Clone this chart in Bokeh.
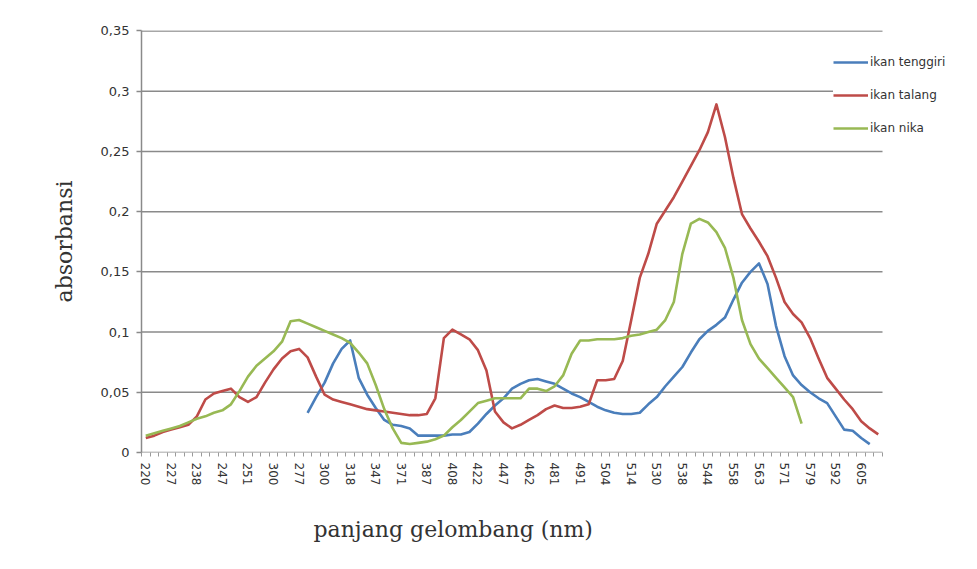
from bokeh.plotting import figure
from bokeh.models import (FixedTicker, Legend, LegendItem, Range1d,
                          CustomJSTickFormatter, Title)
from bokeh.embed import file_html
from bokeh.resources import INLINE

# ---------------- data ----------------
wavelength_labels = ["220", "227", "238", "247", "251", "300", "277", "300", "318",
                     "347", "371", "387", "408", "422", "447", "462", "481", "491",
                     "504", "514", "530", "538", "544", "558", "563", "571", "579",
                     "592", "605"]
label_step = 3          # one label every 3 categories
n_categories = 87

ikan_tenggiri = [None] * 19 + [
    0.033, 0.046, 0.058, 0.074, 0.086, 0.093, 0.062, 0.048, 0.037, 0.027,
    0.023, 0.022, 0.020, 0.014, 0.014, 0.014, 0.014, 0.015, 0.015, 0.017,
    0.024, 0.032, 0.039, 0.045, 0.053, 0.057, 0.060, 0.061, 0.059, 0.057,
    0.053, 0.049, 0.046, 0.042, 0.038, 0.035, 0.033, 0.032, 0.032, 0.033,
    0.040, 0.046, 0.055, 0.063, 0.071, 0.083, 0.094, 0.101, 0.106, 0.112,
    0.127, 0.141, 0.150, 0.157, 0.140, 0.105, 0.080, 0.064, 0.056, 0.050,
    0.045, 0.041, 0.030, 0.019, 0.018, 0.012, 0.007] + [None]

ikan_talang = [
    0.012, 0.014, 0.017, 0.019, 0.021, 0.023, 0.030, 0.044, 0.049, 0.051,
    0.053, 0.046, 0.042, 0.046, 0.058, 0.069, 0.078, 0.084, 0.086, 0.079,
    0.063, 0.048, 0.044, 0.042, 0.040, 0.038, 0.036, 0.035, 0.034, 0.033,
    0.032, 0.031, 0.031, 0.032, 0.045, 0.095, 0.102, 0.098, 0.094, 0.085,
    0.068, 0.034, 0.025, 0.020, 0.023, 0.027, 0.031, 0.036, 0.039, 0.037,
    0.037, 0.038, 0.040, 0.060, 0.060, 0.061, 0.076, 0.110, 0.145, 0.165,
    0.190, 0.201, 0.212, 0.225, 0.238, 0.251, 0.266, 0.289, 0.262, 0.228,
    0.198, 0.186, 0.175, 0.163, 0.145, 0.125, 0.115, 0.108, 0.095, 0.078,
    0.062, 0.053, 0.044, 0.036, 0.026, 0.020, 0.015]

ikan_nika = [
    0.014, 0.016, 0.018, 0.020, 0.022, 0.025, 0.028, 0.030, 0.033, 0.035,
    0.040, 0.051, 0.063, 0.072, 0.078, 0.084, 0.092, 0.109, 0.110, 0.107,
    0.104, 0.101, 0.098, 0.095, 0.091, 0.083, 0.074, 0.056, 0.036, 0.020,
    0.008, 0.007, 0.008, 0.009, 0.011, 0.014, 0.021, 0.027, 0.034, 0.041,
    0.043, 0.045, 0.045, 0.045, 0.045, 0.053, 0.053, 0.051, 0.055, 0.064,
    0.082, 0.093, 0.093, 0.094, 0.094, 0.094, 0.095, 0.097, 0.098, 0.100,
    0.102, 0.110, 0.125, 0.165, 0.190, 0.194, 0.191, 0.183, 0.170, 0.145,
    0.110, 0.090, 0.078, 0.070, 0.062, 0.054, 0.046, 0.024] + [None] * 9

series_names = ["ikan tenggiri", "ikan talang", "ikan nika"]
series_values = [ikan_tenggiri, ikan_talang, ikan_nika]
series_colors = ["#4A7EBB", "#BE4B48", "#98B954"]

y_ticks = [0, 0.05, 0.1, 0.15, 0.2, 0.25, 0.3, 0.35]

# ---------------- figure ----------------
fig_w, fig_h = 977, 569
frame_left, frame_right_px = 141, 965      # frame extends under the legend area
frame_top, frame_bottom = 30, 452
cat_px = 741 / n_categories                # pixel width of one category
x_end = -0.5 + (frame_right_px - frame_left) / cat_px

p = figure(width=fig_w, height=fig_h, output_backend="svg", toolbar_location=None,
           x_range=Range1d(-0.5, x_end), y_range=Range1d(0, 0.3504),
           min_border_left=frame_left, min_border_right=fig_w - frame_right_px,
           min_border_top=frame_top, min_border_bottom=fig_h - frame_bottom)
p.outline_line_color = None
p.background_fill_color = "white"
p.border_fill_color = "white"
p.xgrid.grid_line_color = None
p.ygrid.grid_line_color = None

# horizontal gridlines (and category axis line) limited to the category span
p.segment(x0=[-0.5] * len(y_ticks), x1=[n_categories - 0.5] * len(y_ticks),
          y0=y_ticks, y1=y_ticks, line_color="#8a8a8a", line_width=1.5)

items = []
for name, vals, col in zip(series_names, series_values, series_colors):
    xs = [i for i, v in enumerate(vals) if v is not None]
    ys = [v for v in vals if v is not None]
    r = p.line(xs, ys, line_color=col, line_width=2.6, line_join="round")
    items.append(LegendItem(label=name, renderers=[r]))

# x axis
label_positions = list(range(0, len(wavelength_labels) * label_step, label_step))
xa = p.xaxis[0]
xa.ticker = FixedTicker(ticks=label_positions,
                        minor_ticks=[i - 0.5 for i in range(n_categories + 1)])
xa.major_label_overrides = {pos: lab for pos, lab in zip(label_positions, wavelength_labels)}
xa.major_label_orientation = "vertical"
xa.major_tick_out = 0
xa.major_tick_in = 0
xa.minor_tick_out = 4
xa.minor_tick_in = 0
xa.minor_tick_line_color = "#9a9a9a"
xa.axis_line_color = None
xa.major_label_standoff = 6
xa.major_label_text_font = "DejaVu Sans"
xa.major_label_text_font_size = "12px"
xa.major_label_text_color = "#333333"

x_title = Title(text="panjang gelombang (nm)", align="left", offset=172,
                text_font="DejaVu Serif", text_font_size="22px",
                text_font_style="normal", text_color="#333333", standoff=52)
p.add_layout(x_title, "below")

# y axis
ya = p.yaxis[0]
ya.ticker = FixedTicker(ticks=y_ticks)
ya.formatter = CustomJSTickFormatter(code="return tick.toString().replace('.', ',');")
ya.minor_tick_line_color = None
ya.major_tick_out = 5
ya.major_tick_in = 0
ya.major_tick_line_color = "#8a8a8a"
ya.major_tick_line_width = 1.5
ya.axis_line_color = "#8a8a8a"
ya.axis_line_width = 1.5
ya.major_label_standoff = 7
ya.major_label_text_font = "DejaVu Sans"
ya.major_label_text_font_size = "13px"
ya.major_label_text_color = "#333333"
ya.axis_label = "absorbansi"
ya.axis_label_text_font = "DejaVu Serif"
ya.axis_label_text_font_size = "22px"
ya.axis_label_text_font_style = "normal"
ya.axis_label_text_color = "#333333"
ya.axis_label_standoff = 21

legend = Legend(items=items, location=(692, 314), orientation="vertical",
                border_line_color=None, background_fill_color="white",
                background_fill_alpha=1.0, padding=0, margin=0, spacing=13,
                glyph_height=20, glyph_width=35, label_height=20,
                label_standoff=2, label_text_font="DejaVu Sans",
                label_text_font_size="12px", label_text_color="#333333")
p.add_layout(legend, "center")

open("out.html", "w").write(file_html(p, INLINE))
